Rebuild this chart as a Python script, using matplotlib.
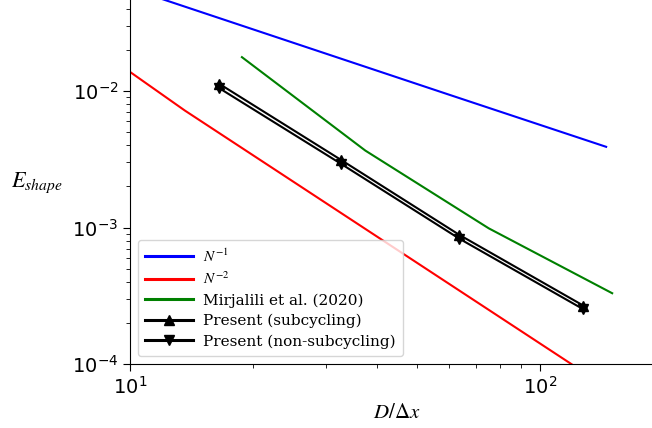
import matplotlib
matplotlib.use("Agg")
import matplotlib.pyplot as plt
import numpy as np
from matplotlib.font_manager import FontProperties

# reference slopes
n1_x = [10.0, 60.0, 145.0]
n1_y = [0.0565, 0.0094, 0.0039]
n2_x = [10.0, 13.6, 145.0]
n2_y = [0.0138, 0.0072, 0.000068]

# Mirjalili et al. (2020)
mir_x = [18.75, 37.5, 75.0, 150.0]
mir_y = [0.0177, 0.00366, 0.000986, 0.00033]

# present results
res = [16.5, 32.7, 63.5, 127.5]
err_sub = [0.0113, 0.00313, 0.000885, 0.000268]
err_nosub = [0.0105, 0.00293, 0.00083, 0.000252]

YTOP = 0.08
DEC = 136.5  # pixels per decade on y

fig = plt.figure(figsize=(6.52, 4.28), dpi=100)
# axes runs past the top and right edge of the figure (cropped look)
h = (4 + np.log10(YTOP)) * DEC / 428
ax = fig.add_axes([130/652, 64/428, 0.8181, h])

ax.plot(n1_x, n1_y, color='b', lw=1.5, label=r'$N^{-1}$')
ax.plot(n2_x, n2_y, color='r', lw=1.5, label=r'$N^{-2}$')
ax.plot(mir_x, mir_y, color='g', lw=1.5, label='Mirjalili et al. (2020)')
ax.plot(res, err_sub, color='k', lw=1.5, marker='^', ms=7.5, label='Present (subcycling)')
ax.plot(res, err_nosub, color='k', lw=1.5, marker='v', ms=7.5, label='Present (non-subcycling)')

ax.set_xscale('log')
ax.set_yscale('log')
ax.set_xlim(10, 200)
ax.set_ylim(1e-4, YTOP)
ax.tick_params(which='major', labelsize=14, length=5)
ax.tick_params(which='minor', length=3)

ax.set_xlabel(r'$D/\Delta x$', fontsize=15, math_fontfamily='stix', labelpad=3)
ax.set_ylabel(r'$E_{shape}$', fontsize=16, math_fontfamily='stix', rotation=0,
              ha='center', va='center')
ax.yaxis.set_label_coords(-0.174, (364 - 183) / (h * 428))

prop = FontProperties(family='DejaVu Serif', size=11, math_fontfamily='stix')
leg = ax.legend(loc='lower left', prop=prop, handlelength=3.1, labelspacing=0.4,
                handletextpad=0.7, borderpad=0.45, borderaxespad=0.55)
for ln in leg.get_lines():
    ln.set_linewidth(2.2)

fig.savefig('out.png', dpi=100)
